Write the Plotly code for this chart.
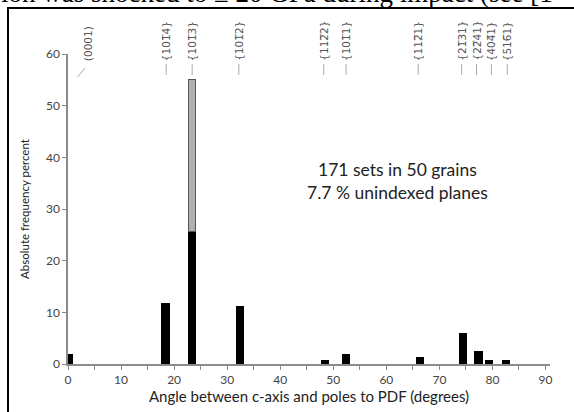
import plotly.graph_objects as go

# ---- data ----
angles = [0.2, 18.4, 23.4, 32.4, 48.4, 52.4, 66.4, 74.4, 77.4, 79.4, 82.5]
indexed_pct = [1.75, 11.7, 25.7, 11.1, 0.62, 1.8, 1.17, 5.85, 2.4, 0.62, 0.62]
extra_angles = [23.4]
extra_pct = [29.3]

plane_labels = ["(0001)", "{101\u03054}", "{101\u03053}", "{101\u03052}", "{112\u03052}",
                "{101\u03051}", "{112\u03051}", "{21\u030531}", "{22\u030541}",
                "{404\u03051}", "{516\u03051}"]
plane_label_x = [3.7, 18.5, 23.4, 32.2, 48.2, 52.4, 66.0, 74.2, 77.0, 79.8, 82.8]

x_ticks = [0, 10, 20, 30, 40, 50, 60, 70, 80, 90]
y_ticks = [0, 10, 20, 30, 40, 50, 60]

caption = "ion was shocked to \u2265 20 GPa during impact (see [1"
note_lines = ["171 sets in 50 grains", "7.7 % unindexed planes"]

# ---- layout constants (page margin removed, figure at page origin) ----
W, H = 574, 412
L, R, T, B = 68, 24, 54, 48
pw, ph = W - L - R, H - T - B


def px_x(p):  # page pixel -> paper x
    return (p - L) / pw


def px_y(p):  # page pixel -> paper y
    return (H - B - p) / ph


def val_y(p):  # page pixel -> data y
    return (H - B - p) / ph * 60


FONT = "Lato"
GRAY_AX = "#8c8c8c"

fig = go.Figure()
fig.add_trace(go.Bar(x=angles, y=indexed_pct, width=1.38,
                     marker=dict(color="black", line=dict(color="black", width=1)),
                     showlegend=False))
fig.add_trace(go.Bar(x=extra_angles, y=extra_pct, width=1.38,
                     marker=dict(color="#b0b0b0", line=dict(color="#555555", width=1)),
                     showlegend=False))

fig.update_layout(
    width=W, height=H, barmode="stack",
    margin=dict(l=L, r=R, t=T, b=B),
    plot_bgcolor="white", paper_bgcolor="white",
    font=dict(family=FONT, color="#333333", size=11),
)

fig.update_xaxes(range=[0, 90.85], tickvals=x_ticks, ticks="outside", ticklen=4,
                 tickcolor=GRAY_AX, showline=True, linecolor=GRAY_AX, linewidth=1.5,
                 showgrid=False, zeroline=False,
                 minor=dict(dtick=5, tick0=0, ticks="outside", ticklen=4, tickcolor=GRAY_AX),
                 tickfont=dict(size=12, color="#444444"),
                 title=dict(text="Angle between c-axis and poles to PDF (degrees)",
                            font=dict(size=15, color="#222222"), standoff=2))
fig.update_yaxes(range=[0, 60], tickvals=y_ticks, ticks="outside", ticklen=4,
                 tickcolor=GRAY_AX, showline=True, linecolor=GRAY_AX, linewidth=1.5,
                 showgrid=False, zeroline=False,
                 tickfont=dict(size=12, color="#444444"),
                 title=dict(text="Absolute frequency percent",
                            font=dict(size=11.5, color="#222222"), standoff=14))

# plane labels (rotated) and leader lines
for i, (lab, lx) in enumerate(zip(plane_labels, plane_label_x)):
    fig.add_annotation(x=lx, y=val_y(63), xref="x", yref="y", text=lab, textangle=-90,
                       showarrow=False, xanchor="center", yanchor="bottom",
                       font=dict(size=10.5, color="#555555", family="DejaVu Sans"))
    if i == 0:
        fig.add_shape(type="line", x0=1.8, y0=val_y(77), x1=3.2, y1=val_y(68),
                      xref="x", yref="y", line=dict(color="#aaaaaa", width=1))
    else:
        fig.add_shape(type="line", x0=lx, y0=val_y(75), x1=lx, y1=val_y(64),
                      xref="x", yref="y", line=dict(color="#aaaaaa", width=1))

# summary note
fig.add_annotation(x=px_x(397.5), y=px_y(181), xref="paper", yref="paper",
                   text="<br>".join(note_lines), showarrow=False, align="center",
                   xanchor="center", yanchor="middle",
                   font=dict(size=17.5, color="#222222", family=FONT))

# outer frame (open to the right and bottom as cropped)
fig.add_shape(type="rect", xref="paper", yref="paper",
              x0=px_x(8), x1=px_x(600), y0=px_y(8), y1=px_y(440),
              line=dict(color="black", width=2), fillcolor="rgba(0,0,0,0)", layer="below")

# cropped caption line at the top
fig.add_annotation(x=px_x(-1), y=px_y(10), xref="paper", yref="paper", text=caption,
                   showarrow=False, xanchor="left", yanchor="bottom",
                   font=dict(size=27, color="black", family="Liberation Serif"))

fig.write_html("out.html", config={"displayModeBar": False},
               post_script="document.body.style.margin='0px';document.body.style.padding='0px';")
